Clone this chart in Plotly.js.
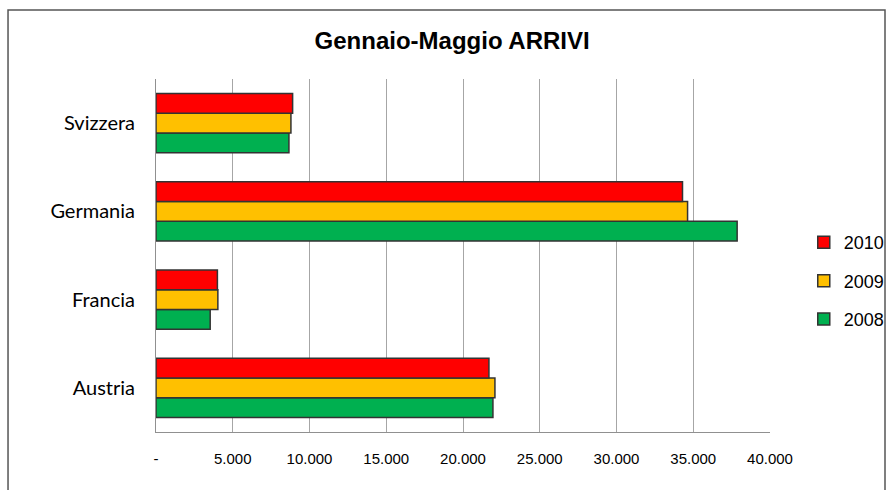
<!DOCTYPE html>
<html>
<head>
<meta charset="utf-8">
<script src="https://cdn.plot.ly/plotly-3.0.1.min.js"></script>
<style>html,body{margin:0;padding:0;background:#fff;}#chart{width:890px;height:490px;}</style>
</head>
<body>
<div id="chart"></div>
<script>
const categories = ["Austria", "Francia", "Germania", "Svizzera"];
const years = ["2008", "2009", "2010"];
const values2008 = [21950, 3530, 37860, 8660];
const values2009 = [22080, 4030, 34630, 8790];
const values2010 = [21690, 4000, 34300, 8900];
const tickValues = [0, 5000, 10000, 15000, 20000, 25000, 30000, 35000, 40000];
const tickLabels = ["-", "5.000", "10.000", "15.000", "20.000", "25.000", "30.000", "35.000", "40.000"];
const colors = ["#00B050", "#FFC000", "#FF0000"];
const series = [values2008, values2009, values2010];

const traces = series.map((vals, i) => ({
  type: "bar",
  orientation: "h",
  name: years[i],
  x: vals,
  y: categories,
  legendgroup: years[i],
  legendrank: 10 - i,
  marker: {color: colors[i], line: {color: "#333333", width: 1.5}},
  hoverinfo: "x+y+name"
}));

const layout = {
  width: 890, height: 490,
  margin: {l: 156, r: 120, t: 79, b: 58, autoexpand: false},
  paper_bgcolor: "#ffffff",
  plot_bgcolor: "#ffffff",
  barmode: "group",
  bargap: 0.33,
  bargroupgap: 0,
  title: {
    text: "<b>Gennaio-Maggio ARRIVI</b>",
    font: {family: "Liberation Sans, Arial, sans-serif", size: 24, color: "#000"},
    x: 0.508, xanchor: "center", y: 0.918, yanchor: "middle"
  },
  xaxis: {
    range: [0, 40000],
    tickvals: tickValues,
    ticktext: tickLabels,
    showgrid: true, gridcolor: "#a6a6a6", gridwidth: 1,
    zeroline: false,
    showline: true, linecolor: "#909090", linewidth: 1,
    ticks: "", ticklabelstandoff: 13,
    tickfont: {family: "Liberation Sans, Arial, sans-serif", size: 15, color: "#000"},
    fixedrange: true
  },
  yaxis: {
    type: "category",
    showgrid: false, zeroline: false,
    showline: true, linecolor: "#909090", linewidth: 1,
    ticks: "", ticklabelstandoff: 16,
    tickfont: {family: "Lato, 'Open Sans', sans-serif", size: 20, color: "#000"},
    fixedrange: true
  },
  legend: {
    x: 1.055, xanchor: "left", y: 0.589, yanchor: "top",
    traceorder: "grouped",
    tracegroupgap: 12,
    font: {family: "Liberation Sans, Arial, sans-serif", size: 18, color: "#000"},
    bgcolor: "rgba(0,0,0,0)"
  },
  shapes: [{
    type: "rect", xref: "paper", yref: "paper",
    x0: -0.2410, x1: 1.1873, y0: -0.2, y1: 1.1955,
    line: {color: "#555555", width: 1.5}, fillcolor: "rgba(0,0,0,0)", layer: "below"
  }],
  showlegend: true
};

Plotly.newPlot("chart", traces, layout, {displayModeBar: false, staticPlot: true});
</script>
</body>
</html>
